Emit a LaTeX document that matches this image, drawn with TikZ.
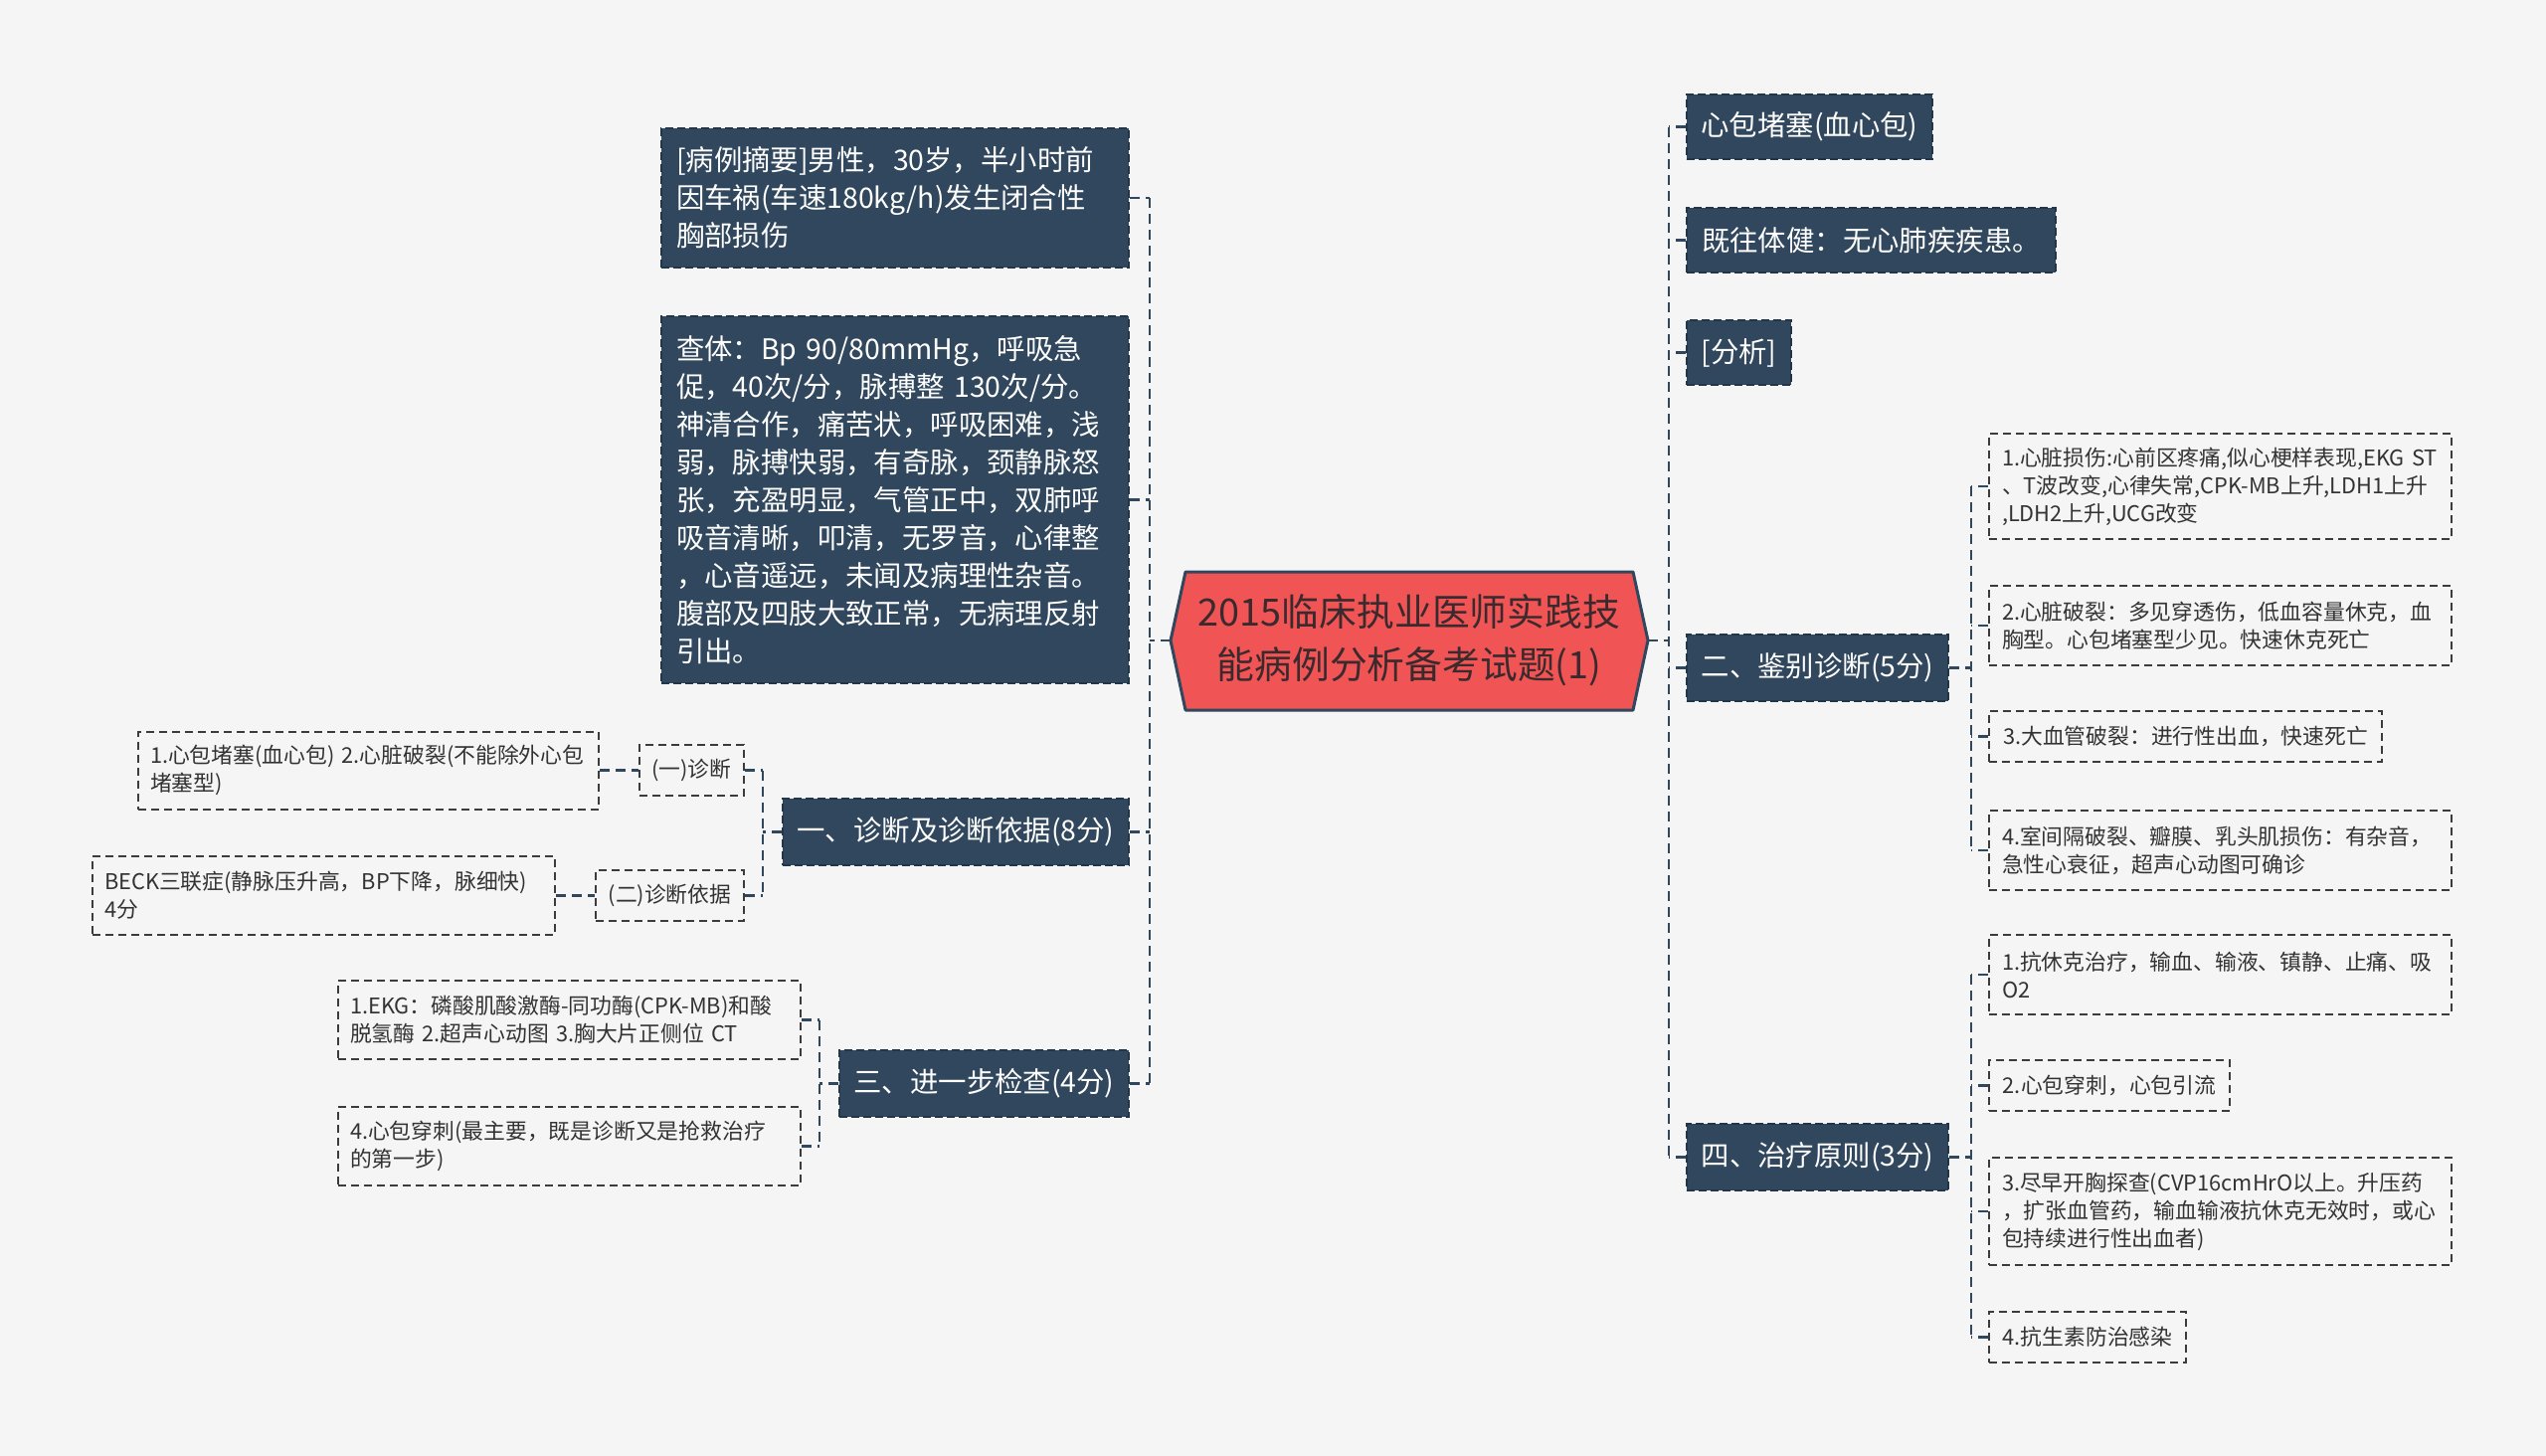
\documentclass[tikz,border=0pt]{standalone}
\usepackage{fontspec}
\setmainfont{Noto Sans CJK SC}
\usetikzlibrary{calc}
\definecolor{bg}{HTML}{F5F5F5}
\definecolor{navy}{HTML}{30475E}
\definecolor{navyline}{HTML}{22364A}
\definecolor{rootred}{HTML}{F05454}
\definecolor{roottext}{HTML}{3A2A2E}
\definecolor{leaftext}{HTML}{333333}
\definecolor{leafline}{HTML}{3C3C3C}
\tikzset{
  conn/.style={draw=navy, line width=2.5pt, dash pattern=on 10pt off 6pt},
  darkbox/.style={rectangle, fill=navy, draw=navyline, line width=1.5pt, dash pattern=on 8pt off 4pt, text=white, inner sep=0pt, align=left, font=\fontsize{28.4}{38}\selectfont},
  leafbox/.style={rectangle, draw=leafline, line width=2pt, dash pattern=on 8pt off 5pt, text=leaftext, inner sep=0pt, align=left, font=\fontsize{21.8}{28}\selectfont},
}
\begin{document}
\begin{tikzpicture}[x=1pt,y=-1pt]
\useasboundingbox[fill=bg] (0,0) rectangle (2560,1464);

% root
\fill[rootred] (1177,644) -- (1192,575) -- (1642,575) -- (1657,644) -- (1642,714) -- (1192,714) -- cycle;
\draw[navy, line width=3pt, line join=round] (1177,644) -- (1192,575) -- (1642,575) -- (1657,644) -- (1642,714) -- (1192,714) -- cycle;
\coordinate (rootW) at (1177,644);
\coordinate (rootE) at (1657,644);
\node[text=roottext, align=center, inner sep=0pt, font=\fontsize{37.8}{53}\selectfont] (root) at (1417,644) {2015临床执业医师实践技\\能病例分析备考试题(1)};

% left main
\node[darkbox, minimum width=470pt, minimum height=140pt, text width=440pt] (A) at (900,199) {[病例摘要]男性，30岁，半小时前\\因车祸(车速180kg/h)发生闭合性\\胸部损伤};
\node[darkbox, minimum width=470pt, minimum height=369pt, text width=440pt] (B) at (900,502.5) {查体：Bp 90/80mmHg，呼吸急\\促，40次/分，脉搏整 130次/分。\\神清合作，痛苦状，呼吸困难，浅\\弱，脉搏快弱，有奇脉，颈静脉怒\\张，充盈明显，气管正中，双肺呼\\吸音清晰，叩清，无罗音，心律整\\，心音遥远，未闻及病理性杂音。\\腹部及四肢大致正常，无病理反射\\引出。};
\node[darkbox, align=center, minimum width=348pt, minimum height=67pt] (S1) at (961,836.5) {一、诊断及诊断依据(8分)};
\node[darkbox, align=center, minimum width=291pt, minimum height=67pt] (S3) at (989.5,1089.5) {三、进一步检查(4分)};

% left sub of S1
\node[leafbox, align=center, minimum width=105pt, minimum height=51pt] (D1a) at (695.5,774.5) {(一)诊断};
\node[leafbox, align=center, minimum width=149pt, minimum height=51pt] (D1b) at (673.5,900.5) {(二)诊断依据};
\node[leafbox, minimum width=463pt, minimum height=78pt, text width=439pt] (L1) at (370.5,774.5) {1.心包堵塞(血心包) 2.心脏破裂(不能除外心包\\堵塞型)};
\node[leafbox, minimum width=465pt, minimum height=79pt, text width=441pt] (L2) at (325.5,900.5) {BECK三联症(静脉压升高，BP下降，脉细快)\\4分};

% left sub of S3
\node[leafbox, minimum width=465pt, minimum height=79pt, text width=441pt] (E1) at (572.5,1025.5) {1.EKG：磷酸肌酸激酶-同功酶(CPK-MB)和酸\\脱氢酶 2.超声心动图 3.胸大片正侧位 CT};
\node[leafbox, minimum width=465pt, minimum height=79pt, text width=441pt] (E2) at (572.5,1152.5) {4.心包穿刺(最主要，既是诊断又是抢救治疗\\的第一步)};

% right main
\node[darkbox, align=center, minimum width=247pt, minimum height=65pt] (R1) at (1819.5,127.5) {心包堵塞(血心包)};
\node[darkbox, align=center, minimum width=371pt, minimum height=65pt] (R2) at (1881.5,241.5) {既往体健：无心肺疾疾患。};
\node[darkbox, align=center, minimum width=105pt, minimum height=65pt] (R3) at (1748.5,354.5) {[分析]};
\node[darkbox, align=center, minimum width=263pt, minimum height=67pt] (S2) at (1827.5,671.5) {二、鉴别诊断(5分)};
\node[darkbox, align=center, minimum width=263pt, minimum height=67pt] (S4) at (1827.5,1163.5) {四、治疗原则(3分)};

% right sub of S2
\node[leafbox, minimum width=465pt, minimum height=106pt, text width=439pt] (F1) at (2232.5,489) {1.心脏损伤:心前区疼痛,似心梗样表现,EKG ST\\、T波改变,心律失常,CPK-MB上升,LDH1上升\\,LDH2上升,UCG改变};
\node[leafbox, minimum width=465pt, minimum height=80pt, text width=439pt] (F2) at (2232.5,629) {2.心脏破裂：多见穿透伤，低血容量休克，血\\胸型。心包堵塞型少见。快速休克死亡};
\node[leafbox, align=center, minimum width=395pt, minimum height=51pt] (F3) at (2197.5,740.5) {3.大血管破裂：进行性出血，快速死亡};
\node[leafbox, minimum width=465pt, minimum height=80pt, text width=439pt] (F4) at (2232.5,855) {4.室间隔破裂、瓣膜、乳头肌损伤：有杂音，\\急性心衰征，超声心动图可确诊};

% right sub of S4
\node[leafbox, minimum width=465pt, minimum height=80pt, text width=439pt] (G1) at (2232.5,980) {1.抗休克治疗，输血、输液、镇静、止痛、吸\\O2};
\node[leafbox, align=center, minimum width=242pt, minimum height=51pt] (G2) at (2121,1091.5) {2.心包穿刺，心包引流};
\node[leafbox, minimum width=465pt, minimum height=108pt, text width=439pt] (G3) at (2232.5,1218) {3.尽早开胸探查(CVP16cmHrO以上。升压药\\，扩张血管药，输血输液抗休克无效时，或心\\包持续进行性出血者)};
\node[leafbox, align=center, minimum width=198pt, minimum height=51pt] (G4) at (2099,1344.5) {4.抗生素防治感染};

% spines
\coordinate (Ls) at (1156,644);
\coordinate (Rs) at (1678,644);
\coordinate (S1s) at (767,836.5);
\coordinate (S3s) at (824,1089.5);
\coordinate (S2s) at (1982,671.5);
\coordinate (S4s) at (1982,1163.5);

% left connectors
\draw[conn] (rootW) -- (Ls);
\draw[conn] (A.east -| Ls) -- (S3.east -| Ls);
\draw[conn] (A.east) -- (A.east -| Ls);
\draw[conn] (B.east) -- (B.east -| Ls);
\draw[conn] (S1.east) -- (S1.east -| Ls);
\draw[conn] (S3.east) -- (S3.east -| Ls);

\draw[conn] (S1.west) -- (S1s);
\draw[conn] (D1a.east -| S1s) -- (D1b.east -| S1s);
\draw[conn] (D1a.east) -- (D1a.east -| S1s);
\draw[conn] (D1b.east) -- (D1b.east -| S1s);
\draw[conn] (L1.east) -- (D1a.west);
\draw[conn] (L2.east) -- (D1b.west);

\draw[conn] (S3.west) -- (S3s);
\draw[conn] (E1.east -| S3s) -- (E2.east -| S3s);
\draw[conn] (E1.east) -- (E1.east -| S3s);
\draw[conn] (E2.east) -- (E2.east -| S3s);

% right connectors
\draw[conn] (rootE) -- (Rs);
\draw[conn] (R1.west -| Rs) -- (S4.west -| Rs);
\draw[conn] (R1.west) -- (R1.west -| Rs);
\draw[conn] (R2.west) -- (R2.west -| Rs);
\draw[conn] (R3.west) -- (R3.west -| Rs);
\draw[conn] (S2.west) -- (S2.west -| Rs);
\draw[conn] (S4.west) -- (S4.west -| Rs);

\draw[conn] (S2.east) -- (S2s);
\draw[conn] (F1.west -| S2s) -- (F4.west -| S2s);
\draw[conn] (F1.west) -- (F1.west -| S2s);
\draw[conn] (F2.west) -- (F2.west -| S2s);
\draw[conn] (F3.west) -- (F3.west -| S2s);
\draw[conn] (F4.west) -- (F4.west -| S2s);

\draw[conn] (S4.east) -- (S4s);
\draw[conn] (G1.west -| S4s) -- (G4.west -| S4s);
\draw[conn] (G1.west) -- (G1.west -| S4s);
\draw[conn] (G2.west) -- (G2.west -| S4s);
\draw[conn] (G3.west) -- (G3.west -| S4s);
\draw[conn] (G4.west) -- (G4.west -| S4s);
\end{tikzpicture}
\end{document}
